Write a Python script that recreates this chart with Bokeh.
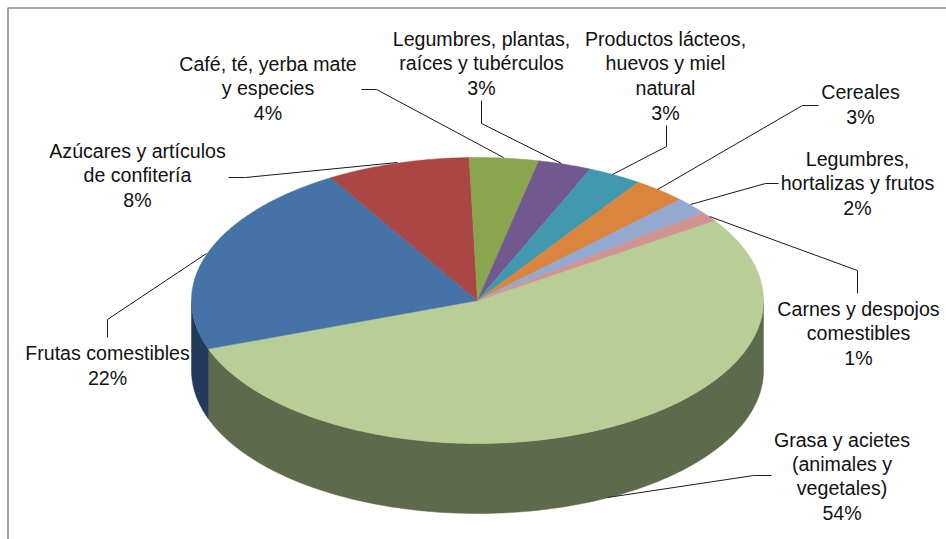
import numpy as np
from bokeh.models import ColumnDataSource, Range1d
from bokeh.plotting import figure
from bokeh.core.properties import value
from bokeh.embed import file_html
from bokeh.resources import INLINE

# ---- data (clockwise from the start angle) ----
categories = ["Grasa y acietes (animales y vegetales)", "Frutas comestibles",
              "Azúcares y artículos de confitería", "Café, té, yerba mate y especies",
              "Legumbres, plantas, raíces y tubérculos",
              "Productos lácteos, huevos y miel natural", "Cereales",
              "Legumbres, hortalizas y frutos", "Carnes y despojos comestibles"]
shares = [53.9, 21.9, 8.1, 3.9, 3.0, 3.05, 3.0, 1.95, 1.1]
label_lines = [["Grasa y acietes", "(animales y", "vegetales)", "54%"],
               ["Frutas comestibles", "22%"],
               ["Azúcares y artículos", "de confitería", "8%"],
               ["Café, té, yerba mate", "y especies", "4%"],
               ["Legumbres, plantas,", "raíces y tubérculos", "3%"],
               ["Productos lácteos,", "huevos y miel", "natural", "3%"],
               ["Cereales", "3%"],
               ["Legumbres,", "hortalizas y frutos", "2%"],
               ["Carnes y despojos", "comestibles", "1%"]]

# ---- style and layout ----
top_colors = ["#B9CD96", "#4573A7", "#AA4643", "#89A54E", "#71588F",
              "#4198AF", "#DB843D", "#93A9CF", "#D19392"]
side_colors = ["#5E6A4C", "#243A5A", "#6B2C2A", "#566830", "#47375A",
               "#29606E", "#8A5326", "#5D6A82", "#845D5C"]
label_x = [841.5, 107, 137, 267.5, 481, 665, 860, 857, 858]
label_y = [439, 352, 150, 63, 38, 38, 91, 158, 308]
label_step = [24.4, 25, 24.5, 24.5, 24.5, 24.7, 25.5, 24.5, 24.5]
leaders = [[(771, 475), (753, 475), (607, 497)],
           [(107, 337), (107, 319), (206, 253)],
           [(228, 177), (245, 177), (397, 162)],
           [(361, 89), (376, 89), (503, 157)],
           [(481, 100), (481, 123), (561, 163)],
           [(666, 125), (666, 146), (612, 174)],
           [(818, 105), (802, 105), (657, 189)],
           [(778, 183), (765, 183), (690, 204)],
           [(857, 293), (857, 270), (709, 216)]]
CX, CY, RX, RY, DEPTH = 477, 300, 286, 143, 70
START = 56.0

W, H = 946, 539
p = figure(width=W, height=H, x_range=Range1d(0, W), y_range=Range1d(H, 0),
           toolbar_location=None, output_backend="svg", min_border=0,
           outline_line_color=None, background_fill_color="white", border_fill_color="white")
p.xaxis.visible = False
p.yaxis.visible = False
p.grid.visible = False


def rim(a_deg, dy=0.0):
    a = np.radians(a_deg)
    return CX + RX * np.sin(a), CY - RY * np.cos(a) + dy


edges = START + np.concatenate([[0], np.cumsum(shares)]) * 360.0 / sum(shares)

# side walls: only the front half of the cake (90..270 degrees clockwise from the top)
sx, sy, sc = [], [], []
for a0, a1, c in zip(edges[:-1], edges[1:], side_colors):
    lo, hi = max(a0, 90), min(a1, 270)
    if hi <= lo:
        continue
    t = np.linspace(lo, hi, 160)
    x0, y0 = rim(t)
    x1, y1 = rim(t[::-1], DEPTH)
    sx.append(np.concatenate([x0, x1]).tolist())
    sy.append(np.concatenate([y0, y1]).tolist())
    sc.append(c)
p.patches("x", "y", source=ColumnDataSource(dict(x=sx, y=sy, c=sc)),
          fill_color="c", line_color="c", line_width=0.5)

# top faces
tx, ty = [], []
for a0, a1 in zip(edges[:-1], edges[1:]):
    t = np.linspace(a0, a1, max(8, int((a1 - a0) * 2)))
    x0, y0 = rim(t)
    tx.append([CX] + x0.tolist())
    ty.append([CY] + y0.tolist())
p.patches("x", "y", source=ColumnDataSource(dict(x=tx, y=ty, c=top_colors)),
          fill_color="c", line_color="c", line_width=0.5)

# chart-area frame (top and left only, as cropped in the reference)
p.line([7.5, 7.5, 946], [539, 7.5, 7.5], line_color="#868686", line_width=1.5)

# leader lines
p.multi_line([[q[0] for q in l] for l in leaders], [[q[1] for q in l] for l in leaders],
             line_color="#1a1a1a", line_width=1)

# labels
lx, ly, lt = [], [], []
for lines, x, y, step in zip(label_lines, label_x, label_y, label_step):
    for i, s in enumerate(lines):
        lx.append(x)
        ly.append(y + i * step)
        lt.append(s)
p.text("x", "y", "t", source=ColumnDataSource(dict(x=lx, y=ly, t=lt)),
       text_font=value("Liberation Sans"), text_font_size="19.6px", text_color="#111111",
       text_align="center", text_baseline="middle")

open("out.html", "w").write(file_html(p, INLINE))
